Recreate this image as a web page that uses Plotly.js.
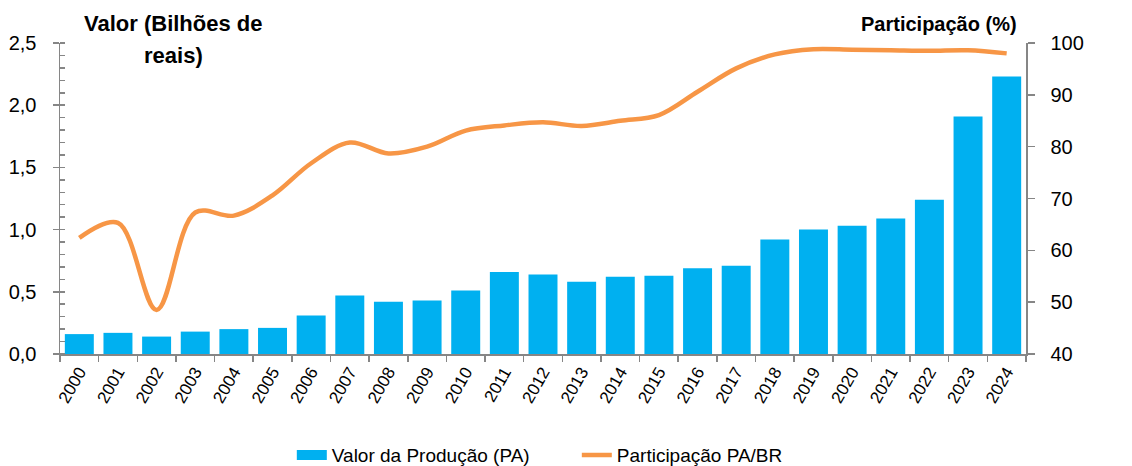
<!DOCTYPE html>
<html>
<head>
<meta charset="utf-8">
<script src="https://cdn.plot.ly/plotly-3.0.1.min.js"></script>
<style>html,body{margin:0;padding:0;background:#fff;}#chart{width:1132px;height:466px;}</style>
</head>
<body>
<div id="chart"></div>
<script>
var years = ["2000","2001","2002","2003","2004","2005","2006","2007","2008","2009","2010","2011","2012","2013","2014","2015","2016","2017","2018","2019","2020","2021","2022","2023","2024"];
var valorProducao = [0.16,0.17,0.14,0.18,0.20,0.21,0.31,0.47,0.42,0.43,0.51,0.66,0.64,0.58,0.62,0.63,0.69,0.71,0.92,1.00,1.03,1.09,1.24,1.91,2.23];
var participacao = [62.4,65.3,48.5,67.3,66.7,70.6,76.8,80.8,78.7,80.0,83.1,84.1,84.7,84.0,85.0,86.1,90.6,95.1,97.8,98.8,98.7,98.6,98.5,98.6,98.0];
var leftTitle1 = "Valor (Bilhões de";
var leftTitle2 = "reais)";
var rightTitle = "Participação (%)";
var barName = "Valor da Produção (PA)";
var lineName = "Participação PA/BR";

var FONT = "'Liberation Sans', Arial, sans-serif";
var axisColor = "#868686";
var barColor = "#00B0F0";
var lineColor = "#F79646";

var traces = [
  {type:"bar", x:years, y:valorProducao, name:barName, marker:{color:barColor}, yaxis:"y", showlegend:false},
  {type:"scatter", mode:"lines", x:[null], y:[null], name:barName, yaxis:"y", line:{color:barColor, width:13}, showlegend:true},
  {type:"scatter", mode:"lines", x:years, y:participacao, name:lineName, yaxis:"y2",
   line:{color:lineColor, width:4.5, shape:"spline", smoothing:1}}
];

var layout = {
  width:1132, height:466,
  margin:{l:60, r:106, t:43, b:112, autoexpand:false},
  paper_bgcolor:"#fff", plot_bgcolor:"#fff",
  separators:",.",
  font:{family:FONT, size:18, color:"#000"},
  bargap:0.25,
  showlegend:true,
  legend:{orientation:"h", x:0.535, xanchor:"center", y:-0.325, yanchor:"middle", font:{family:FONT, size:19, color:"#000"},
    traceorder:"normal", itemwidth:30, entrywidth:240, entrywidthmode:"pixels", bgcolor:"rgba(0,0,0,0)"},
  xaxis:{type:"category", automargin:false, showgrid:false, zeroline:false, showline:true, linecolor:axisColor, linewidth:1.5,
    ticks:"outside", tickson:"boundaries", ticklen:6, tickcolor:axisColor, tickwidth:1.5,
    tickangle:-60, tickfont:{family:FONT, size:17, color:"#000"}},
  yaxis:{range:[0,2.5], automargin:false, dtick:0.5, tickformat:".1f", showgrid:false, zeroline:false, showline:true, linecolor:axisColor, linewidth:1.5,
    ticks:"outside", ticklen:6, tickcolor:axisColor, tickwidth:1.5, ticklabelstandoff:12, tickfont:{family:FONT, size:20, color:"#000"},
    minor:{dtick:0.1, ticks:"inside", ticklen:5, tickcolor:axisColor, tickwidth:1.5}},
  yaxis2:{range:[40,100], automargin:false, dtick:10, overlaying:"y", side:"right", showgrid:false, zeroline:false, showline:true, linecolor:axisColor, linewidth:1.5,
    ticks:"outside", ticklen:7, tickcolor:axisColor, tickwidth:1.5, ticklabelstandoff:12, tickfont:{family:FONT, size:20, color:"#000"}},
  annotations:[
    {text:"<b>"+leftTitle1+"</b>", xref:"paper", yref:"paper", x:0.1175, y:1.0, xanchor:"center", yanchor:"middle", showarrow:false, yshift:20,
     font:{family:FONT, size:22, color:"#000"}},
    {text:"<b>"+leftTitle2+"</b>", xref:"paper", yref:"paper", x:0.1175, y:1.0, xanchor:"center", yanchor:"middle", showarrow:false, yshift:-12,
     font:{family:FONT, size:22, color:"#000"}},
    {text:"<b>"+rightTitle+"</b>", xref:"paper", yref:"paper", x:0.993, y:1.0, xanchor:"right", yanchor:"middle", showarrow:false, yshift:19,
     font:{family:FONT, size:20, color:"#000"}}
  ]
};

Plotly.newPlot("chart", traces, layout, {displayModeBar:false, staticPlot:true});
</script>
</body>
</html>
